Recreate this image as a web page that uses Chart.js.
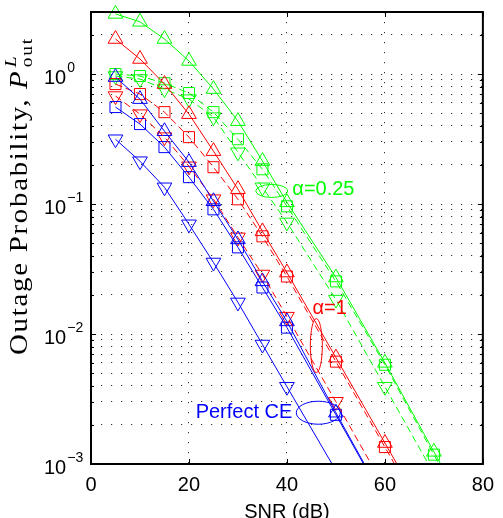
<!DOCTYPE html>
<html>
<head>
<meta charset="utf-8">
<script src="https://cdn.jsdelivr.net/npm/chart.js@4.4.1/dist/chart.umd.min.js"></script>
<style>
  html, body { margin: 0; padding: 0; background: #fff; }
  #wrap { width: 503px; height: 518px; position: relative; }
</style>
</head>
<body>
<div id="wrap"><canvas id="chart"></canvas></div>
<script>
// SNR values (dB) where the simulation markers sit
const snr = [5, 10, 15, 20, 25, 30, 35, 40, 50, 60, 70];

// Perfect CE (blue)
const blueUp   = [0.948, 0.641, 0.363, 0.210, 0.105, 0.0534, 0.0254, 0.0125, 0.00248];
const blueSq   = [0.557, 0.412, 0.274, 0.161, 0.091, 0.0464, 0.0228, 0.0112, 0.00239];
const blueDown = [0.315, 0.2135, 0.1345, 0.0698, 0.0355, 0.0175, 0.0083, 0.00393];
// alpha = 1 (red)
const redUp   = [1.86, 1.305, 0.837, 0.491, 0.255, 0.130, 0.0616, 0.0297, 0.00658, 0.00145];
const redSq   = [0.837, 0.701, 0.509, 0.327, 0.192, 0.1087, 0.0564, 0.0277, 0.00613, 0.00135];
const redDown = [0.677, 0.491, 0.327, 0.195, 0.109, 0.0554, 0.0287, 0.0136, 0.00301];
// alpha = 0.25 (green)
const greenUp   = [2.90, 2.52, 1.86, 1.26, 0.766, 0.434, 0.214, 0.103, 0.0272, 0.0060, 0.00124];
const greenSq   = [1.00, 0.965, 0.85, 0.714, 0.509, 0.315, 0.185, 0.096, 0.0254, 0.0058, 0.00118];
const greenDown = [0.965, 0.915, 0.766, 0.641, 0.466, 0.250, 0.1345, 0.0722, 0.0184, 0.00393];

// where each analytic curve leaves the bottom of the plot [snr, value]
const blueUpTail = [60, 0.00052], blueSqTail = [60, 0.00051], blueDownTail = [50, 0.00089];
const redUpTail = [65, 0.00068], redSqTail = [65, 0.00063], redDownTail = [60, 0.00065];
const greenUpTail = [75, 0.00057], greenSqTail = [75, 0.00053], greenDownTail = [70, 0.00084];

// axis ticks
const xTicks = [0, 20, 40, 60, 80];
const yDecades = [0.001, 0.01, 0.1, 1];
const yExpLabels = ['\u22123', '\u22122', '\u22121', '0'];

const BLUE = '#0000ff', RED = '#ff0000', GREEN = '#00ff00';

function pts(vals, tail) {
  const p = vals.map((v, i) => ({ x: snr[i], y: v }));
  if (tail) p.push({ x: tail[0], y: tail[1] });
  return p;
}

function lineSet(vals, tail, color, dash) {
  return {
    data: pts(vals, tail),
    borderColor: color,
    borderWidth: 1,
    borderDash: dash || [],
    pointRadius: 0,
    fill: false,
    tension: 0
  };
}

function markSet(vals, color, style, rot, r) {
  return {
    data: pts(vals),
    showLine: false,
    pointStyle: style,
    rotation: rot,
    pointRadius: r,
    borderColor: color,
    backgroundColor: 'rgba(0,0,0,0)',
    pointBorderWidth: 1,
    clip: false
  };
}

// y grid: every 1..9 x decade up to the top of the axis
const yGrid = [];
yDecades.forEach(d => { for (let k = 1; k <= 9; k++) yGrid.push(+(d * k).toPrecision(3)); });
const yMax = 3;

const dashed = [7, 4];
const TRI = 8.5, SQ = 7.8;

const matlabAxes = {
  id: 'matlabAxes',
  afterDraw(chart) {
    const { ctx, chartArea: a, scales: { x, y } } = chart;
    ctx.save();

    // frame
    ctx.strokeStyle = '#000';
    ctx.lineWidth = 2;
    ctx.strokeRect(a.left, a.top, a.right - a.left, a.bottom - a.top);

    // inward ticks
    ctx.lineWidth = 1;
    ctx.beginPath();
    xTicks.forEach(v => {
      const px = Math.round(x.getPixelForValue(v)) + 0.5;
      ctx.moveTo(px, a.bottom); ctx.lineTo(px, a.bottom - 5);
      ctx.moveTo(px, a.top); ctx.lineTo(px, a.top + 5);
    });
    yGrid.filter(v => v <= yMax).forEach(v => {
      const py = Math.round(y.getPixelForValue(v)) + 0.5;
      const len = yDecades.includes(v) ? 5 : 3;
      ctx.moveTo(a.left, py); ctx.lineTo(a.left + len, py);
      ctx.moveTo(a.right, py); ctx.lineTo(a.right - len, py);
    });
    ctx.stroke();

    // y tick labels 10^n
    ctx.fillStyle = '#000';
    ctx.textBaseline = 'middle';
    ctx.textAlign = 'left';
    yDecades.forEach((d, i) => {
      const py = y.getPixelForValue(d);
      ctx.font = '20px "Liberation Sans"';
      ctx.fillText('10', 44, py + 4);
      const w = ctx.measureText('10').width;
      ctx.font = '14px "Liberation Sans"';
      ctx.fillText(yExpLabels[i], 44 + w + 1, py - 6);
    });

    // y title
    ctx.save();
    ctx.translate(27, 355);
    ctx.rotate(-Math.PI / 2);
    ctx.letterSpacing = '1.5px';
    const t1 = 'Outage Probability, ';
    ctx.font = '25px "Liberation Serif"';
    const w1 = ctx.measureText(t1).width;
    ctx.font = 'italic 25px "Liberation Serif"';
    const wP = ctx.measureText('P').width;
    ctx.font = '17px "Liberation Serif"';
    const wOut = ctx.measureText('out').width;
    const total = w1 + wP + 2 + wOut;
    ctx.scale(318 / total, 1);
    ctx.textBaseline = 'alphabetic';
    ctx.font = '25px "Liberation Serif"';
    ctx.fillText(t1, 0, 0);
    ctx.font = 'italic 25px "Liberation Serif"';
    ctx.fillText('P', w1, 0);
    ctx.font = 'italic 17px "Liberation Serif"';
    ctx.fillText('L', w1 + wP + 2, -11);
    ctx.font = '17px "Liberation Serif"';
    ctx.fillText('out', w1 + wP + 2, 5);
    ctx.restore();

    // annotations
    const ell = (cx, cy, rx, ry, color) => {
      ctx.beginPath();
      ctx.strokeStyle = color;
      ctx.lineWidth = 1;
      ctx.ellipse(x.getPixelForValue(cx), y.getPixelForValue(cy), rx, ry, 0, 0, Math.PI * 2);
      ctx.stroke();
    };
    ell(46.4, 0.00248, 22, 11.5, BLUE);
    ell(36.9, 0.126, 16, 6.5, GREEN);
    ell(46.0, 0.00814, 6, 27, RED);

    ctx.font = '20px "Liberation Sans"';
    ctx.textBaseline = 'middle';
    ctx.fillStyle = GREEN;
    ctx.textAlign = 'left';
    ctx.fillText('\u03b1=0.25', x.getPixelForValue(41.1), y.getPixelForValue(0.13));
    ctx.fillStyle = RED;
    ctx.fillText('\u03b1=1', x.getPixelForValue(45.2), y.getPixelForValue(0.0157));
    ctx.fillStyle = BLUE;
    ctx.textAlign = 'right';
    ctx.fillText('Perfect CE', x.getPixelForValue(41.1), y.getPixelForValue(0.0025));

    ctx.restore();
  }
};

new Chart(document.getElementById('chart'), {
  type: 'line',
  data: {
    datasets: [
      lineSet(blueUp, blueUpTail, BLUE),
      lineSet(blueSq, blueSqTail, BLUE),
      lineSet(blueDown, blueDownTail, BLUE),
      lineSet(redUp, redUpTail, RED),
      lineSet(redSq, redSqTail, RED, dashed),
      lineSet(redDown, redDownTail, RED, dashed),
      lineSet(greenUp, greenUpTail, GREEN),
      lineSet(greenSq, greenSqTail, GREEN, dashed),
      lineSet(greenDown, greenDownTail, GREEN, dashed),
      markSet(blueUp, BLUE, 'triangle', 0, TRI),
      markSet(blueSq, BLUE, 'rect', 0, SQ),
      markSet(blueDown, BLUE, 'triangle', 180, TRI),
      markSet(redUp, RED, 'triangle', 0, TRI),
      markSet(redSq, RED, 'rect', 0, SQ),
      markSet(redDown, RED, 'triangle', 180, TRI),
      markSet(greenUp, GREEN, 'triangle', 0, TRI),
      markSet(greenSq, GREEN, 'rect', 0, SQ),
      markSet(greenDown, GREEN, 'triangle', 180, TRI)
    ]
  },
  options: {
    responsive: true,
    maintainAspectRatio: false,
    animation: false,
    events: [],
    layout: { padding: { left: 0, right: 15, top: 12, bottom: 0 } },
    plugins: { legend: { display: false }, tooltip: { enabled: false } },
    scales: {
      x: {
        type: 'linear',
        min: 0, max: 80,
        afterFit: s => { s.height = 54; },
        afterBuildTicks: s => { s.ticks = xTicks.map(v => ({ value: v })); },
        ticks: { color: '#000', padding: 9, font: { family: 'Liberation Sans', size: 20 } },
        grid: {
          drawTicks: false,
          color: c => (c.tick && (c.tick.value === 0 || c.tick.value === 80)) ? 'rgba(0,0,0,0)' : '#333'
        },
        border: { display: false, dash: [1.2, 8.8] },
        title: {
          display: true, text: 'SNR (dB)', color: '#000',
          font: { family: 'Liberation Sans', size: 20, lineHeight: 1 },
          padding: { top: 0, bottom: -4 }
        }
      },
      y: {
        type: 'logarithmic',
        min: 0.001, max: yMax,
        afterFit: s => { s.width = 91; },
        afterBuildTicks: s => { s.ticks = yGrid.filter(v => v <= yMax).map(v => ({ value: v })); },
        ticks: { display: false },
        grid: {
          drawTicks: false,
          color: c => (c.tick && (c.tick.value === 0.001 || c.tick.value >= yMax)) ? 'rgba(0,0,0,0)' : '#333'
        },
        border: { display: false, dash: [1.2, 8.8] }
      }
    }
  },
  plugins: [matlabAxes]
});
</script>
</body>
</html>
